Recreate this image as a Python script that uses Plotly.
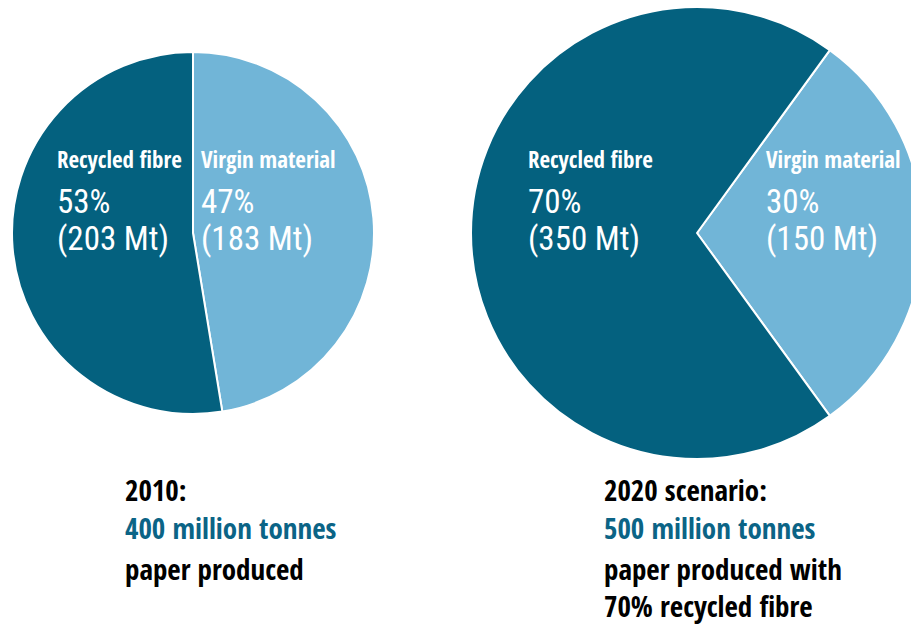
import plotly.graph_objects as go

# Paper production by fibre source
categories = ["Virgin material", "Recycled fibre"]
mt_2010 = [183, 203]
mt_2020 = [150, 350]
total_2010 = 400
total_2020 = 500
recycled_share_2020 = 70

DARK = "#04617f"
LIGHT = "#71b5d7"
TEAL_TEXT = "#0b6486"
HEAD_FONT = "Open Sans Condensed, Roboto Condensed, sans-serif"
NUM_FONT = "Roboto Condensed, Open Sans Condensed, sans-serif"

W, H = 930, 627


def px(x):
    return x / W


def py(y):
    return 1 - y / H


fig = go.Figure()

# 2010 pie: virgin slice starts at 12 o'clock, going clockwise
fig.add_trace(go.Pie(
    labels=categories, values=mt_2010, sort=False, direction="clockwise",
    rotation=0, textinfo="none", hoverinfo="skip",
    marker=dict(colors=[LIGHT, DARK], line=dict(color="white", width=2)),
    domain=dict(x=[px(12), px(374)], y=[py(414), py(52)]),
    showlegend=False,
))

# 2020 scenario pie: virgin slice centred on 3 o'clock
fig.add_trace(go.Pie(
    labels=categories, values=mt_2020, sort=False, direction="clockwise",
    rotation=90 - 360 * mt_2020[0] / sum(mt_2020) / 2,
    textinfo="none", hoverinfo="skip",
    marker=dict(colors=[LIGHT, DARK], line=dict(color="white", width=2)),
    domain=dict(x=[px(471), px(923)], y=[py(459), py(7)]),
    showlegend=False,
))

annotations = []


def label(text, x, y_center, size, color="white", family=HEAD_FONT, bold=False):
    if bold:
        text = f"<b>{text}</b>"
    annotations.append(dict(
        text=text, x=px(x), y=py(y_center), xref="paper", yref="paper",
        xanchor="left", yanchor="middle", showarrow=False, align="left",
        font=dict(family=family, size=size, color=color),
    ))


def slice_labels(values, x_positions):
    total = sum(values)
    for cat, v, x in zip(categories, values, x_positions):
        pct = round(v / total * 100)
        label(cat, x, 159, 23, bold=True)
        label(f"{pct}%", x, 201, 33, family=NUM_FONT)
        label(f"({v} Mt)", x, 238, 33, family=NUM_FONT)


slice_labels(mt_2010, [199, 55])
slice_labels(mt_2020, [764, 526])

# Captions below each pie
BODY = 29
label("2010:", 123, 489, BODY, color="black", bold=True)
label(f"{total_2010} million tonnes", 123, 527, BODY, color=TEAL_TEXT, bold=True)
label("paper produced", 123, 568, BODY, color="black", bold=True)

label("2020 scenario:", 602, 489, BODY, color="black", bold=True)
label(f"{total_2020} million tonnes", 602, 527, BODY, color=TEAL_TEXT, bold=True)
label("paper produced with", 602, 568, BODY, color="black", bold=True)
label(f"{recycled_share_2020}% recycled fibre", 602, 605, BODY, color="black", bold=True)

fig.update_layout(
    width=W, height=H,
    margin=dict(l=0, r=0, t=0, b=0),
    paper_bgcolor="white", plot_bgcolor="white",
    annotations=annotations,
)

fig.write_html("out.html", config={"displayModeBar": False})
